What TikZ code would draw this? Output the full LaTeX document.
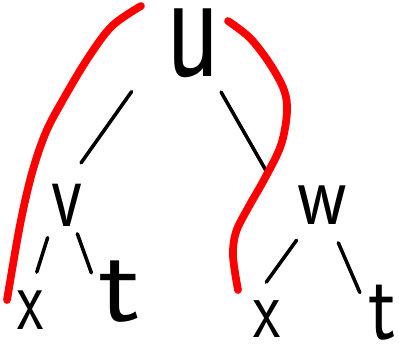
\documentclass[tikz,border=0pt]{standalone}
\usepackage{graphicx}
\usepackage{xcolor}
\usepackage{tikz}
\usetikzlibrary{calc}

\newcommand{\handltr}[3]{\fontsize{#1}{#1}\selectfont\scalebox{#2}[1]{#3}}

\begin{document}
\begin{tikzpicture}[x=0.025cm,y=-0.025cm,
  letter/.style={inner sep=0pt,font=\sffamily},
  edge/.style={line width=2.5pt,line cap=round},
  cut/.style={red,line width=5.5pt,line cap=round,line join=round}]
\useasboundingbox (0,0) rectangle (399,350);
% tree
\node[letter] (u) at (193,43) {\handltr{112pt}{0.7}{u}};
\node[letter] (v) at (67,205) {\handltr{70pt}{0.73}{v}};
\node[letter] (w) at (322,205) {\handltr{64pt}{0.86}{w}};
\node[letter] (x1) at (31,310) {\handltr{64pt}{0.67}{x}};
\node[letter] (t1) at (120,292) {\handltr{78pt}{1.15}{t}};
\node[letter] (x2) at (267,319) {\handltr{61pt}{0.73}{x}};
\node[letter] (t2) at (383,313) {\handltr{70pt}{0.84}{t}};
\draw[edge] ($(u.west)!.3!(v.west)$) -- ($(u.west)!.74!(v.west)$);
\draw[edge] ($(u)!.27!(w.south west)$) -- ($(u)!.71!(w.south west)$);
\draw[edge] ($(v.south west)!.175!(x1.north)$) -- ($(v.south west)!.714!(x1.north)$);
\draw[edge] ($(v)!.33!(t1.west)$) -- ($(v)!.78!(t1.west)$);
\draw[edge] ($(w)!.37!(x2.north west)$) -- ($(w)!.81!(x2.north west)$);
\draw[edge] ($(w)!.35!(t2.west)$) -- ($(w)!.81!(t2.west)$);
% red strokes
\draw[cut] plot[smooth,tension=0.55] coordinates {(141,6) (112,26) (88,58) (64,98) (46,132) (32,173) (20,225) (7,300)};
\draw[cut] plot[smooth,tension=0.55] coordinates {(228,21) (250,38) (270,64) (284,90) (287,112) (281,145) (265,178) (248,208) (236,232) (233,256) (238,290)};
\end{tikzpicture}
\end{document}
